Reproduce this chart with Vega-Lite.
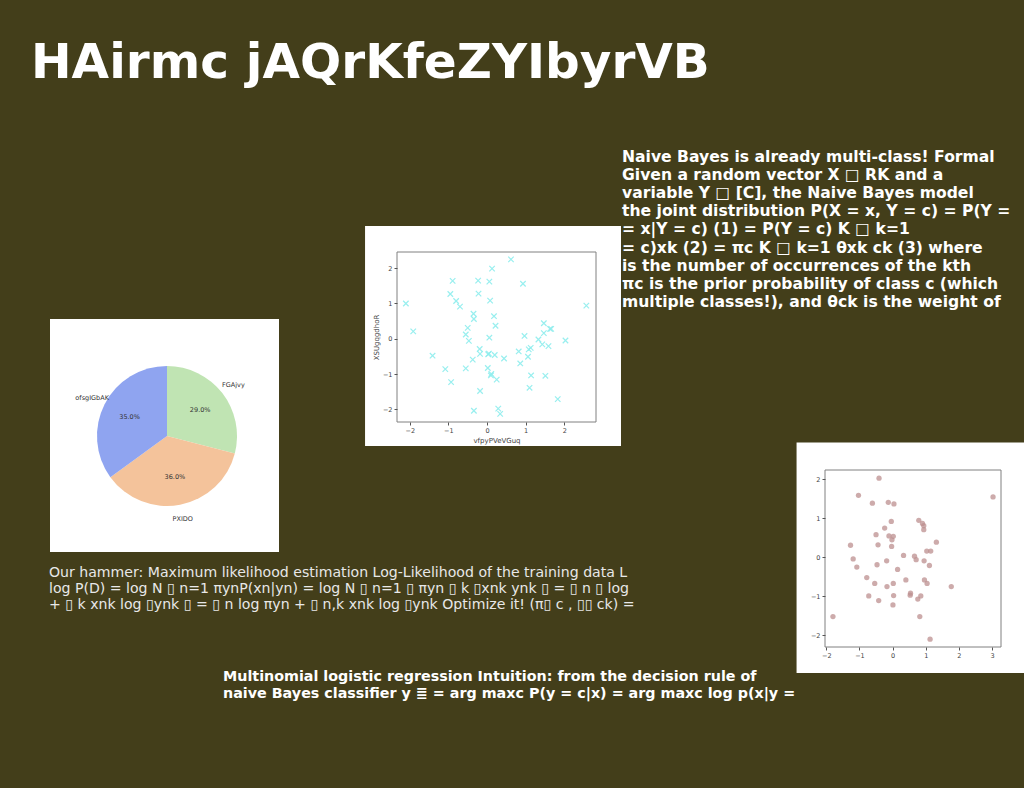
{
  "$schema": "https://vega.github.io/schema/vega-lite/v6.json",
  "width": 1024,
  "height": 788,
  "autosize": {"type": "none"},
  "padding": 0,
  "background": "#433E1A",
  "config": {"view": {"stroke": null}},
  "datasets": {
    "pie": [
      {"label": "FGAjvy", "share": 0.29, "k": 1},
      {"label": "PXIDO", "share": 0.36, "k": 2},
      {"label": "ofsgIGbAK", "share": 0.35, "k": 3}
    ],
    "sc1": [
      {"x": -2.10, "y": 1.00}, {"x": -1.91, "y": 0.21}, {"x": -1.41, "y": -0.48}, {"x": -1.08, "y": -0.86},
      {"x": -0.93, "y": -1.23}, {"x": -0.95, "y": 1.27}, {"x": -0.89, "y": 1.64}, {"x": -0.80, "y": 1.07},
      {"x": -0.70, "y": 0.91}, {"x": -0.55, "y": 0.12}, {"x": -0.50, "y": 0.31}, {"x": -0.47, "y": -0.06},
      {"x": -0.55, "y": -0.84}, {"x": -0.37, "y": -0.59}, {"x": -0.35, "y": 0.71}, {"x": -0.34, "y": 0.56},
      {"x": -0.34, "y": -2.04}, {"x": -0.23, "y": 1.65}, {"x": -0.22, "y": 1.28}, {"x": -0.19, "y": -0.29},
      {"x": -0.18, "y": -0.43}, {"x": -0.18, "y": -1.48}, {"x": 0.02, "y": -0.83}, {"x": 0.03, "y": -0.44},
      {"x": 0.05, "y": -0.42}, {"x": 0.06, "y": 0.03}, {"x": 0.06, "y": 1.62}, {"x": 0.08, "y": 1.08},
      {"x": 0.10, "y": -1.04}, {"x": 0.11, "y": -1.00}, {"x": 0.13, "y": 1.99}, {"x": 0.18, "y": 0.64},
      {"x": 0.20, "y": -0.46}, {"x": 0.22, "y": 0.37}, {"x": 0.25, "y": -1.16}, {"x": 0.29, "y": -1.98},
      {"x": 0.34, "y": -2.13}, {"x": 0.44, "y": -0.56}, {"x": 0.62, "y": 2.25}, {"x": 0.82, "y": -0.36},
      {"x": 0.86, "y": -0.70}, {"x": 0.93, "y": 1.56}, {"x": 0.97, "y": 0.08}, {"x": 1.06, "y": -0.51},
      {"x": 1.08, "y": -0.30}, {"x": 1.13, "y": -0.26}, {"x": 1.14, "y": -1.04}, {"x": 1.10, "y": -1.39},
      {"x": 1.33, "y": -0.02}, {"x": 1.43, "y": -0.16}, {"x": 1.47, "y": 0.44}, {"x": 1.47, "y": 0.16},
      {"x": 1.51, "y": -1.05}, {"x": 1.59, "y": -0.21}, {"x": 1.63, "y": 0.28}, {"x": 1.66, "y": 0.28},
      {"x": 1.83, "y": -1.71}, {"x": 2.03, "y": -0.05}, {"x": 2.57, "y": 0.94}
    ],
    "sc2": [
      {"x": -1.80, "y": -1.52}, {"x": -1.27, "y": 0.31}, {"x": -1.19, "y": -0.04}, {"x": -1.08, "y": -0.25},
      {"x": -1.03, "y": 1.59}, {"x": -0.78, "y": -0.52}, {"x": -0.72, "y": -0.99}, {"x": -0.61, "y": 1.39},
      {"x": -0.54, "y": -0.67}, {"x": -0.50, "y": 0.58}, {"x": -0.47, "y": -0.19}, {"x": -0.44, "y": 0.32},
      {"x": -0.42, "y": -1.11}, {"x": -0.41, "y": 2.03}, {"x": -0.24, "y": 0.75}, {"x": -0.18, "y": -0.09},
      {"x": -0.17, "y": -0.75}, {"x": -0.13, "y": 1.41}, {"x": -0.11, "y": 0.55}, {"x": -0.04, "y": 0.92},
      {"x": -0.03, "y": 0.28}, {"x": -0.02, "y": 0.45}, {"x": 0.01, "y": -1.22}, {"x": 0.02, "y": 0.54},
      {"x": 0.02, "y": -0.67}, {"x": 0.03, "y": -0.98}, {"x": 0.04, "y": 1.37}, {"x": 0.15, "y": -0.31},
      {"x": 0.33, "y": 0.05}, {"x": 0.40, "y": -0.58}, {"x": 0.53, "y": -0.97}, {"x": 0.54, "y": -0.92},
      {"x": 0.66, "y": 0.03}, {"x": 0.71, "y": -0.06}, {"x": 0.76, "y": -1.07}, {"x": 0.79, "y": 0.95},
      {"x": 0.82, "y": -1.52}, {"x": 0.85, "y": -0.99}, {"x": 0.90, "y": 0.87}, {"x": 0.94, "y": 0.81},
      {"x": 0.94, "y": 0.71}, {"x": 0.95, "y": -0.09}, {"x": 0.96, "y": -0.58}, {"x": 1.03, "y": 0.16},
      {"x": 1.04, "y": -0.67}, {"x": 1.11, "y": -0.21}, {"x": 1.13, "y": -2.10}, {"x": 1.15, "y": 0.16},
      {"x": 1.32, "y": 0.39}, {"x": 1.77, "y": -0.75}, {"x": 3.03, "y": 1.55}
    ]
  },
  "layer": [
    {
      "data": {"values": [{}]},
      "mark": {"type": "text", "text": "HAirmc jAQrKfeZYIbyrVB", "x": 31, "y": 78, "align": "left", "baseline": "alphabetic", "font": "DejaVu Sans", "fontWeight": "bold", "fontSize": 48.5, "color": "#ffffff"},
      "encoding": {}
    },
    {
      "data": {"name": "pie"},
      "layer": [
        {
          "data": {"values": [{}]},
          "mark": {"type": "rect", "fill": "#ffffff", "x": 50, "x2": 279, "y": 319, "y2": 552},
          "encoding": {}
        },
        {
          "mark": {"type": "arc", "x": 167, "y": 436, "outerRadius": 70},
          "encoding": {
            "theta": {"field": "share", "type": "quantitative", "stack": true},
            "color": {"field": "label", "type": "nominal", "legend": null,
              "scale": {"domain": ["FGAjvy", "PXIDO", "ofsgIGbAK"], "range": ["#C0E4B3", "#F4C39B", "#8FA4F0"]}},
            "order": {"field": "k", "type": "quantitative"}
          }
        },
        {
          "mark": {"type": "text", "x": 167, "y": 436, "radius": 84, "font": "DejaVu Sans", "fontSize": 6.5, "color": "#333333", "align": "center", "baseline": "middle"},
          "encoding": {
            "theta": {"field": "share", "type": "quantitative", "stack": true},
            "detail": {"field": "label", "type": "nominal"},
            "order": {"field": "k", "type": "quantitative"},
            "text": {"field": "label", "type": "nominal"}
          }
        },
        {
          "mark": {"type": "text", "x": 167, "y": 436, "radius": 42, "font": "DejaVu Sans", "fontSize": 6.5, "color": "#333333", "align": "center", "baseline": "middle"},
          "encoding": {
            "theta": {"field": "share", "type": "quantitative", "stack": true},
            "detail": {"field": "label", "type": "nominal"},
            "order": {"field": "k", "type": "quantitative"},
            "text": {"field": "share", "type": "quantitative", "format": ".1%"}
          }
        }
      ]
    },
    {
      "layer": [
        {
          "data": {"values": [{}]},
          "mark": {"type": "rect", "fill": "#ffffff", "clip": false},
          "encoding": {
            "x": {"datum": -3.157, "type": "quantitative"},
            "x2": {"datum": 3.467},
            "y": {"datum": 3.20, "type": "quantitative"},
            "y2": {"datum": -3.04}
          }
        },
        {
          "data": {"values": [{}]},
          "mark": {"type": "rect", "fill": null, "stroke": "#808080", "strokeWidth": 1},
          "encoding": {
            "x": {"datum": -2.33, "type": "quantitative"},
            "x2": {"datum": 2.82},
            "y": {"datum": 2.46, "type": "quantitative"},
            "y2": {"datum": -2.36}
          }
        },
        {
          "data": {"name": "sc1"},
          "mark": {"type": "point", "shape": "M-1,-1L1,1M-1,1L1,-1", "filled": false, "size": 30, "strokeWidth": 1.2, "color": "#8EEEEE", "opacity": 0.9},
          "encoding": {
            "x": {"field": "x", "type": "quantitative",
              "scale": {"domain": [-2.33, 2.82], "range": [397, 596], "nice": false, "zero": false},
              "axis": {"orient": "bottom", "offset": -366, "values": [-2, -1, 0, 1, 2], "format": "d", "grid": false, "domain": false, "tickSize": 3, "tickColor": "#555555", "labelFont": "DejaVu Sans", "labelFontSize": 6.5, "labelColor": "#444444", "labelPadding": 2, "title": "vfpyPVeVGuq", "titleFont": "DejaVu Sans", "titleFontSize": 7, "titleFontWeight": "normal", "titleColor": "#444444", "titlePadding": 3, "zindex": 1}},
            "y": {"field": "y", "type": "quantitative",
              "scale": {"domain": [-2.36, 2.46], "range": [422, 252], "nice": false, "zero": false},
              "axis": {"orient": "left", "offset": -397, "values": [-2, -1, 0, 1, 2], "format": "d", "grid": false, "domain": false, "tickSize": 3, "tickColor": "#555555", "labelFont": "DejaVu Sans", "labelFontSize": 6.5, "labelColor": "#444444", "labelPadding": 2, "title": "XSUgqgdhoR", "titleFont": "DejaVu Sans", "titleFontSize": 7, "titleFontWeight": "normal", "titleColor": "#444444", "titlePadding": 3, "zindex": 1}}
          }
        }
      ]
    },
    {
      "layer": [
        {
          "data": {"values": [{}]},
          "mark": {"type": "rect", "fill": "#ffffff", "clip": false},
          "encoding": {
            "x": {"datum": -2.898, "type": "quantitative"},
            "x2": {"datum": 3.966},
            "y": {"datum": 2.946, "type": "quantitative"},
            "y2": {"datum": -2.964}
          }
        },
        {
          "data": {"values": [{}]},
          "mark": {"type": "rect", "fill": null, "stroke": "#808080", "strokeWidth": 1},
          "encoding": {
            "x": {"datum": -2.04, "type": "quantitative"},
            "x2": {"datum": 3.27},
            "y": {"datum": 2.24, "type": "quantitative"},
            "y2": {"datum": -2.30}
          }
        },
        {
          "data": {"name": "sc2"},
          "mark": {"type": "circle", "size": 28, "color": "#BC8F8F", "opacity": 0.75},
          "encoding": {
            "x": {"field": "x", "type": "quantitative",
              "scale": {"domain": [-2.04, 3.27], "range": [825, 1001], "nice": false, "zero": false},
              "axis": {"orient": "bottom", "offset": -141, "values": [-2, -1, 0, 1, 2, 3], "format": "d", "grid": false, "domain": false, "tickSize": 3, "tickColor": "#555555", "labelFont": "DejaVu Sans", "labelFontSize": 6.5, "labelColor": "#444444", "labelPadding": 2, "title": null, "zindex": 1}},
            "y": {"field": "y", "type": "quantitative",
              "scale": {"domain": [-2.30, 2.24], "range": [647, 470], "nice": false, "zero": false},
              "axis": {"orient": "left", "offset": -825, "values": [-2, -1, 0, 1, 2], "format": "d", "grid": false, "domain": false, "tickSize": 3, "tickColor": "#555555", "labelFont": "DejaVu Sans", "labelFontSize": 6.5, "labelColor": "#444444", "labelPadding": 2, "title": null, "zindex": 1}}
          }
        }
      ]
    },
    {
      "data": {"values": [{}]},
      "mark": {"type": "text", "x": 622, "y": 162, "align": "left", "baseline": "alphabetic", "font": "DejaVu Sans", "fontWeight": "bold", "fontSize": 15.6, "lineHeight": 18.1, "color": "#ffffff",
        "text": [
          "Naive Bayes is already multi-class! Formal",
          "Given a random vector X □ RK and a",
          "variable Y □ [C], the Naive Bayes model",
          "the joint distribution P(X = x, Y = c) = P(Y =",
          "= x|Y = c) (1) = P(Y = c) K □ k=1",
          "= c)xk (2) = πc K □ k=1 θxk ck (3) where",
          "is the number of occurrences of the kth",
          "πc is the prior probability of class c (which",
          "multiple classes!), and θck is the weight of"
        ]},
      "encoding": {}
    },
    {
      "data": {"values": [{}]},
      "mark": {"type": "text", "x": 49, "y": 577, "align": "left", "baseline": "alphabetic", "font": "DejaVu Sans", "fontSize": 14.1, "lineHeight": 16, "color": "#e8e8e8",
        "text": [
          "Our hammer: Maximum likelihood estimation Log-Likelihood of the training data L",
          "log P(D) = log N ▯ n=1 πynP(xn|yn) = log N ▯ n=1 ▯ πyn ▯ k ▯xnk ynk ▯ = ▯ n ▯ log",
          "+ ▯ k xnk log ▯ynk ▯ = ▯ n log πyn + ▯ n,k xnk log ▯ynk Optimize it! (π▯ c , ▯▯ ck) ="
        ]},
      "encoding": {}
    },
    {
      "data": {"values": [{}]},
      "mark": {"type": "text", "x": 223, "y": 681, "align": "left", "baseline": "alphabetic", "font": "DejaVu Sans", "fontWeight": "bold", "fontSize": 14.3, "lineHeight": 17, "color": "#ffffff",
        "text": [
          "Multinomial logistic regression Intuition: from the decision rule of",
          "naive Bayes classifier y ≣ = arg maxc P(y = c|x) = arg maxc log p(x|y ="
        ]},
      "encoding": {}
    }
  ],
  "resolve": {
    "scale": {"x": "independent", "y": "independent"},
    "axis": {"x": "independent", "y": "independent"}
  }
}
